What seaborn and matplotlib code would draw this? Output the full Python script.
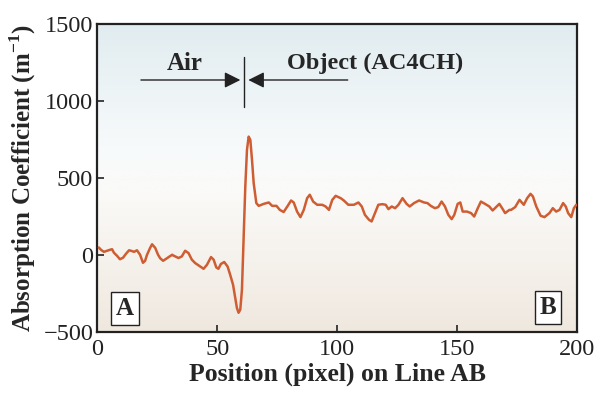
import numpy as np
import pandas as pd
import seaborn as sns
import matplotlib.pyplot as plt
from matplotlib.colors import LinearSegmentedColormap

# profile along line AB
position = [
    0.6, 1.5, 2.7, 4.0, 5.2, 6.1, 6.9, 8.2, 9.4, 10.7, 11.9, 13.2, 14.0, 15.3,
    16.5, 17.8, 19.0, 19.9, 20.7, 22.0, 22.8, 24.1, 25.3, 26.2, 27.4, 28.7,
    29.9, 31.2, 31.7, 33.8, 35.2, 36.6, 38.0, 39.4, 40.8, 42.2, 44.3, 45.7,
    47.4, 48.5, 49.6, 50.5, 51.5, 52.9, 54.3, 55.4, 56.6, 57.5, 58.2, 58.9,
    59.6, 60.3, 61.0, 61.7, 62.4, 63.1, 63.8, 64.5, 65.2, 66.3, 67.3, 68.4,
    69.4, 71.5, 72.9, 74.7, 76.1, 77.7, 79.4, 80.8, 81.9, 83.3, 84.7, 86.1,
    87.5, 88.6, 90.0, 91.7, 93.8, 95.2, 96.6, 98.0, 99.4, 101.5, 102.8, 104.7,
    107.0, 108.9, 110.3, 111.6, 113.3, 114.4, 115.8, 117.2, 118.9, 120.3,
    121.4, 122.8, 124.2, 125.6, 127.3, 129.0, 130.3, 132.1, 134.2, 136.3,
    137.7, 139.1, 140.8, 142.2, 143.6, 145.0, 146.4, 147.8, 148.9, 150.3,
    151.4, 152.4, 154.2, 155.9, 157.2, 158.7, 160.0, 161.7, 163.5, 164.9,
    166.3, 167.7, 169.1, 170.1, 171.9, 172.6, 174.3, 176.1, 177.9, 179.3,
    180.7, 181.7, 183.1, 184.9, 186.5, 188.6, 190.0, 191.4, 192.8, 194.3,
    195.4, 196.4, 197.7, 198.8, 199.8,
]
absorption = [
    49, 34, 21, 28, 34, 38, 15, -5, -27, -17, 8, 31, 28, 21,
    31, 2, -50, -37, 2, 47, 70, 47, 2, -21, -37, -24,
    -11, 2, -3, -19, -9, 28, 13, -30, -52, -67, -89, -63,
    -13, -30, -80, -89, -58, -45, -74, -128, -193, -279, -343, -374,
    -354, -225, 99, 444, 682, 768, 747, 617, 466, 337, 319, 326,
    332, 341, 319, 319, 293, 279, 319, 354, 341, 282, 246, 293,
    369, 391, 347, 326, 326, 315, 293, 358, 384, 369, 354, 326,
    326, 341, 315, 261, 229, 218, 272, 326, 330, 326,
    298, 315, 304, 326, 369, 332, 315, 337, 354, 341,
    337, 319, 304, 311, 347, 315, 261, 233, 261, 332,
    341, 282, 282, 272, 250, 304, 347, 332, 315, 289,
    311, 332, 298, 272, 293, 293, 311, 358, 326, 369,
    397, 380, 315, 255, 246, 272, 304, 282, 293, 337,
    315, 272, 246, 304, 326,
]

x_ticks = [0, 50, 100, 150, 200]
y_ticks = [-500, 0, 500, 1000, 1500]

sns.set_theme(style='ticks')
plt.rcParams['font.family'] = ['Liberation Serif', 'DejaVu Serif']
plt.rcParams['mathtext.fontset'] = 'custom'
plt.rcParams['mathtext.rm'] = 'Liberation Serif'
plt.rcParams['mathtext.bf'] = 'Liberation Serif:bold'

df = pd.DataFrame({'position': position, 'absorption': absorption})

fig = plt.figure(figsize=(5.94, 3.95), dpi=100)
ax = fig.add_axes([0.164, 0.159, 0.807, 0.781])

# soft background: blue-grey at top, white in the middle, beige at the bottom
bg = LinearSegmentedColormap.from_list(
    'bg', [(0.0, '#efe8df'), (0.45, '#fbfaf8'), (0.6, '#f7fafb'), (1.0, '#e1ecf0')])
ax.imshow(np.linspace(0, 1, 256).reshape(-1, 1), cmap=bg, origin='lower',
          extent=[0, 200, -500, 1500], aspect='auto', zorder=0)

sns.lineplot(data=df, x='position', y='absorption', ax=ax,
             color='#cf5d33', linewidth=1.8, zorder=3)

ax.set_xlim(0, 200)
ax.set_ylim(-500, 1500)
ax.set_xticks(x_ticks)
ax.set_yticks(y_ticks)
ax.tick_params(direction='in', length=5, width=1.2, labelsize=17.5, colors='#222222')
ax.tick_params(axis='x', pad=5)
ax.tick_params(axis='y', pad=3)
for s in ax.spines.values():
    s.set_linewidth(1.6)
    s.set_color('#222222')

ax.set_xlabel('Position (pixel) on Line AB', fontsize=18.5, fontweight='bold', labelpad=2)
ax.set_ylabel(r'Absorption Coefficient (m$^{\mathbf{-1}}$)', fontsize=18,
              fontweight='bold', labelpad=4)

# Air / Object annotation
ax.plot([61.3, 61.3], [960, 1285], color='#222222', linewidth=1.0, zorder=4)
arrow = dict(arrowstyle='-|>', color='#222222', lw=1.0, mutation_scale=24)
ax.annotate('', xy=(60.8, 1135), xytext=(17, 1135), arrowprops=arrow)
ax.annotate('', xy=(61.8, 1135), xytext=(105.6, 1135), arrowprops=arrow)
ax.text(36.6, 1245, 'Air', fontsize=18, fontweight='bold', ha='center', va='center')
ax.text(116, 1245, 'Object (AC4CH)', fontsize=17.5, fontweight='bold',
        ha='center', va='center')

box = dict(boxstyle='square,pad=0.2', facecolor='white', edgecolor='#222222', lw=1.0)
ax.text(11.5, -345, 'A', fontsize=18, fontweight='bold', ha='center', va='center', bbox=box)
ax.text(188, -340, 'B', fontsize=18, fontweight='bold', ha='center', va='center', bbox=box)

fig.savefig('out.png', dpi=100)
